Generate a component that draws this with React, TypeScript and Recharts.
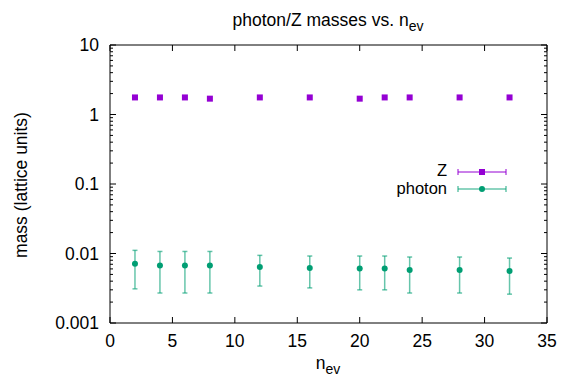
import { ScatterChart, Scatter, XAxis, YAxis, ErrorBar } from "recharts"

const nev = [2, 4, 6, 8, 12, 16, 20, 22, 24, 28, 32]
const zMass = [1.76, 1.76, 1.76, 1.69, 1.76, 1.76, 1.69, 1.76, 1.76, 1.76, 1.76]
const photonMass = [0.0071, 0.0067, 0.0067, 0.0067, 0.0064, 0.0062, 0.0061, 0.0061, 0.0058, 0.0058, 0.0056]
const photonErr = [0.0040, 0.0040, 0.0040, 0.0040, 0.0030, 0.0030, 0.0031, 0.0031, 0.0031, 0.0031, 0.0030]
const xTicks = [0, 5, 10, 15, 20, 25, 30, 35]
const decades = [0.001, 0.01, 0.1, 1, 10]

const yTicks: number[] = []
decades.forEach((d, i) => {
  yTicks.push(d)
  if (i < decades.length - 1) for (let k = 2; k <= 9; k++) yTicks.push(Number((d * k).toPrecision(3)))
})

const zData = nev.map((x, i) => ({ x, y: zMass[i] }))
const photonData = nev.map((x, i) => ({ x, y: photonMass[i], err: photonErr[i] }))

const PURPLE = "#9400d3"
const GREEN = "#009e73"
const FONT = "'Liberation Sans', Arial, sans-serif"
const FS = 17.5
const SUB = 14
const LEG = 16.5

const isMajor = (v: number) => Math.abs(Math.log10(v) - Math.round(Math.log10(v))) < 1e-6

const BottomTick = (props: any) => {
  const { x, y, payload } = props
  return (
    <g>
      <line x1={x} y1={y} x2={x} y2={y - 6} stroke="#000" />
      <text x={x} y={y + 24} textAnchor="middle" fontSize={FS} fontFamily={FONT} fill="#000">
        {payload.value}
      </text>
    </g>
  )
}

const TopTick = (props: any) => {
  const { x, y } = props
  return <line x1={x} y1={y} x2={x} y2={y + 6} stroke="#000" />
}

const LeftTick = (props: any) => {
  const { x, y, payload } = props
  const major = isMajor(payload.value)
  return (
    <g>
      <line x1={x} y1={y} x2={x + (major ? 6 : 3)} y2={y} stroke="#000" />
      {major && (
        <text x={x - 11} y={y + 6} textAnchor="end" fontSize={FS} fontFamily={FONT} fill="#000">
          {String(payload.value)}
        </text>
      )}
    </g>
  )
}

const RightTick = (props: any) => {
  const { x, y, payload } = props
  const major = isMajor(payload.value)
  return <line x1={x} y1={y} x2={x - (major ? 6 : 3)} y2={y} stroke="#000" />
}

const Square = (props: any) => <rect x={props.cx - 3} y={props.cy - 3} width={6} height={6} fill={PURPLE} />
const Dot = (props: any) => <circle cx={props.cx} cy={props.cy} r={3} fill={GREEN} />

export default function App() {
  return (
    <div style={{ position: "absolute", left: 0, top: 0, width: 561, height: 377, background: "#fff" }}>
      <ScatterChart width={561} height={377} margin={{ top: 44, right: 13, bottom: 24, left: 50 }}>
        <XAxis
          dataKey="x"
          type="number"
          domain={[0, 35]}
          ticks={xTicks}
          interval={0}
          height={30}
          tickSize={0}
          tickMargin={0}
          tick={<BottomTick />}
          axisLine={{ stroke: "#000" }}
        />
        <XAxis
          xAxisId="t"
          dataKey="x"
          orientation="top"
          type="number"
          domain={[0, 35]}
          ticks={xTicks}
          interval={0}
          height={1}
          tickSize={0}
          tickMargin={0}
          tick={<TopTick />}
          axisLine={{ stroke: "#000" }}
        />
        <YAxis
          dataKey="y"
          type="number"
          scale="log"
          domain={[0.001, 10]}
          allowDataOverflow
          ticks={yTicks}
          interval={0}
          width={60}
          tickSize={0}
          tickMargin={0}
          tick={<LeftTick />}
          axisLine={{ stroke: "#000" }}
        />
        <YAxis
          yAxisId="r"
          dataKey="y"
          orientation="right"
          type="number"
          scale="log"
          domain={[0.001, 10]}
          allowDataOverflow
          ticks={yTicks}
          interval={0}
          width={1}
          tickSize={0}
          tickMargin={0}
          tick={<RightTick />}
          axisLine={{ stroke: "#000" }}
        />
        <Scatter name="Z" data={zData} xAxisId="t" yAxisId="r" shape={<Square />} isAnimationActive={false} />
        <Scatter name="photon" data={photonData} shape={<Dot />} isAnimationActive={false}>
          <ErrorBar dataKey="err" direction="y" width={2.5} stroke={GREEN} strokeWidth={1.5} strokeOpacity={0.6} />
        </Scatter>
      </ScatterChart>
      <svg
        width={561}
        height={377}
        style={{ position: "absolute", left: 0, top: 0, pointerEvents: "none" }}
        fontFamily={FONT}
      >
        <text x={328} y={26} textAnchor="middle" fontSize={FS}>
          photon/Z masses vs. n<tspan fontSize={SUB} dy={5}>ev</tspan>
        </text>
        <text x={328} y={369} textAnchor="middle" fontSize={FS}>
          n<tspan fontSize={SUB} dy={5}>ev</tspan>
        </text>
        <text x={27} y={185} textAnchor="middle" fontSize={FS} transform="rotate(-90 27 185)">
          mass (lattice units)
        </text>
        <text x={447} y={176} textAnchor="end" fontSize={LEG}>Z</text>
        <line x1={458} y1={172} x2={506} y2={172} stroke={PURPLE} strokeWidth={1} />
        <line x1={458} y1={169} x2={458} y2={175} stroke={PURPLE} />
        <line x1={506} y1={169} x2={506} y2={175} stroke={PURPLE} />
        <rect x={479} y={169} width={6} height={6} fill={PURPLE} />
        <text x={447} y={194} textAnchor="end" fontSize={LEG}>photon</text>
        <line x1={458} y1={189} x2={506} y2={189} stroke={GREEN} strokeWidth={1.5} strokeOpacity={0.6} />
        <line x1={458} y1={186} x2={458} y2={192} stroke={GREEN} strokeWidth={1.5} strokeOpacity={0.6} />
        <line x1={506} y1={186} x2={506} y2={192} stroke={GREEN} strokeWidth={1.5} strokeOpacity={0.6} />
        <circle cx={482} cy={189} r={3} fill={GREEN} />
      </svg>
    </div>
  )
}
